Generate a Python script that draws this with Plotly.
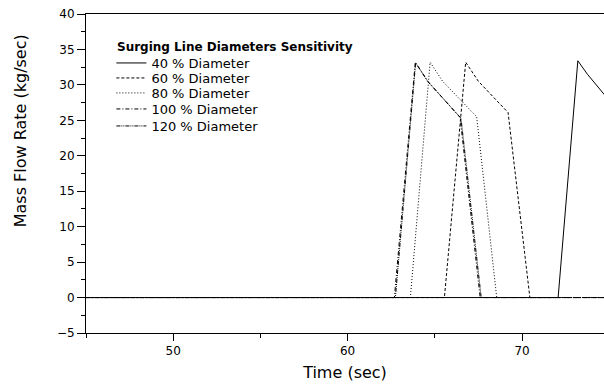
import plotly.graph_objects as go

# ---- data ----
t_40 = [45, 72.07, 73.2, 73.75, 75]
m_40 = [0, 0, 33.4, 31.5, 27.8]

t_60 = [45, 65.55, 66.77, 67.5, 69.2, 70.45, 75]
m_60 = [0, 0, 33.2, 30.5, 26.1, 0, 0]

t_80 = [45, 63.6, 64.73, 65.45, 67.4, 68.55, 75]
m_80 = [0, 0, 33.2, 30.5, 25.5, 0, 0]

t_100 = [45, 62.68, 63.88, 64.6, 66.45, 67.6, 75]
m_100 = [0, 0, 33.2, 30.5, 25.4, 0, 0]

t_120 = [45, 62.74, 63.9, 64.62, 66.5, 67.66, 75]
m_120 = [0, 0, 33.1, 30.4, 25.3, 0, 0]

names = ["40 % Diameter", "60 % Diameter", "80 % Diameter",
         "100 % Diameter", "120 % Diameter"]
xs = [t_40, t_60, t_80, t_100, t_120]
ys = [m_40, m_60, m_80, m_100, m_120]
dashes = ["solid", "3px,2px", "1px,2px", "4px,2px,1px,2px", "4px,1px,1px,1px,1px,1px"]

FONT = "DejaVu Sans"
legend_ids = ["legend", "legend2", "legend3", "legend4", "legend5"]
legend_y = [0.8464, 0.7994, 0.7524, 0.7022, 0.6489]

fig = go.Figure()
for x, y, n, d, lid in zip(xs, ys, names, dashes, legend_ids):
    fig.add_trace(go.Scatter(x=x, y=y, mode="lines", name=n, legend=lid,
                             line=dict(color="black", width=1, dash=d)))

legend_layout = {}
for lid, ly in zip(legend_ids, legend_y):
    legend_layout[lid] = dict(
        x=0.049, y=ly, xanchor="left", yanchor="middle",
        bgcolor="rgba(0,0,0,0)", borderwidth=0,
        font=dict(family=FONT, size=13, color="black"),
        itemwidth=30,
    )

fig.update_layout(
    width=604, height=389,
    margin=dict(l=86, r=0, t=14, b=56),
    paper_bgcolor="white", plot_bgcolor="white",
    font=dict(family=FONT, size=12, color="black"),
    showlegend=True,
    xaxis=dict(
        range=[45, 74.7], showgrid=False, zeroline=False,
        showline=True, linecolor="black", linewidth=1, mirror=True,
        ticks="outside", ticklen=7, tickcolor="black",
        tick0=50, dtick=10,
        minor=dict(ticks="outside", ticklen=4, dtick=5, tick0=45, tickcolor="black"),
        tickfont=dict(family=FONT, size=12),
        title=dict(text="Time (sec)", font=dict(family=FONT, size=16), standoff=9),
    ),
    yaxis=dict(
        range=[-5, 40], showgrid=False, zeroline=False,
        showline=True, linecolor="black", linewidth=1,
        ticks="outside", ticklen=8, tickcolor="black",
        tick0=0, dtick=5,
        minor=dict(ticks="outside", ticklen=4, dtick=2.5, tickcolor="black"),
        tickfont=dict(family=FONT, size=12),
    ),
    annotations=[
        dict(text="Mass Flow Rate (kg/sec)", xref="paper", yref="paper",
             x=-0.127, y=0.633, xanchor="center", yanchor="middle",
             textangle=-90, showarrow=False, font=dict(family=FONT, size=16)),
        dict(text="<b>Surging Line Diameters Sensitivity</b>", xref="paper", yref="paper",
             x=(115 - 86) / 518, y=0.8966, xanchor="left", yanchor="middle",
             showarrow=False, font=dict(family=FONT, size=12)),
    ],
    **legend_layout,
)

fig.write_html("out.html")
